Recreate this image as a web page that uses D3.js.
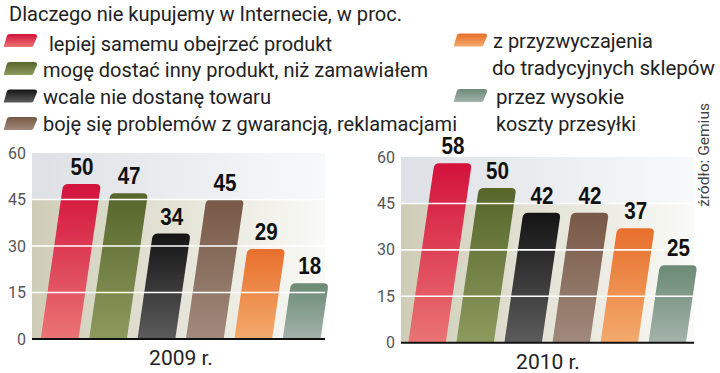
<!DOCTYPE html>
<html>
<head>
<meta charset="utf-8">
<script src="https://cdn.jsdelivr.net/npm/d3@7"></script>
<style>
  body { margin: 0; background: #fff; }
  svg { display: block; }
  text { font-family: Roboto, 'Liberation Sans', sans-serif; }
</style>
</head>
<body>
<svg id="chart" width="720" height="373"></svg>
<script>
// data
const title = 'Dlaczego nie kupujemy w Internecie, w proc.'
const categories = [
  'lepiej samemu obejrzeć produkt',
  'mogę dostać inny produkt, niż zamawiałem',
  'wcale nie dostanę towaru',
  'boję się problemów z gwarancją, reklamacjami',
  'z przyzwyczajenia do tradycyjnych sklepów',
  'przez wysokie koszty przesyłki'
]
const legendLines = [
  ['lepiej samemu obejrzeć produkt'],
  ['mogę dostać inny produkt, niż zamawiałem'],
  ['wcale nie dostanę towaru'],
  ['boję się problemów z gwarancją, reklamacjami'],
  ['z przyzwyczajenia', 'do tradycyjnych sklepów'],
  ['przez wysokie', 'koszty przesyłki']
]
const values2009 = [50, 47, 34, 45, 29, 18]
const values2010 = [58, 50, 42, 42, 37, 25]
const yTicks = [0, 15, 30, 45, 60]
const years = ['2009 r.', '2010 r.']
const source = 'źródło: Gemius'

const topColors = ['#d3123c', '#56652a', '#141414', '#785846', '#e86f2c', '#6c8a76']
const bottomColors = ['#ea7474', '#8c9a5e', '#5c5c5c', '#a08a7c', '#f3aa6c', '#a3b3aa']

var svg = d3.select('#chart')
var defs = svg.append('defs')

categories.forEach(function (c, i) {
  var g = defs.append('linearGradient')
    .attr('id', 'bar' + i)
    .attr('x1', 0).attr('y1', 0).attr('x2', 0).attr('y2', 1)
  g.append('stop').attr('offset', '0%').attr('stop-color', topColors[i])
  g.append('stop').attr('offset', '100%').attr('stop-color', bottomColors[i])
})

var bgLow = defs.append('linearGradient').attr('id', 'bgLow')
bgLow.append('stop').attr('offset', '0%').attr('stop-color', '#cfcdb7')
bgLow.append('stop').attr('offset', '100%').attr('stop-color', '#fafaf7')
var bgHigh = defs.append('linearGradient').attr('id', 'bgHigh')
bgHigh.append('stop').attr('offset', '0%').attr('stop-color', '#dde0e5')
bgHigh.append('stop').attr('offset', '100%').attr('stop-color', '#f8f9fa')

// slanted bar with rounded top corners
function barPath (xb, w, y0, yt, slant, r) {
  var off = (y0 - yt) * slant
  var xt = xb + off
  r = Math.min(r, (y0 - yt) / 2)
  return 'M' + xb + ',' + y0 +
    'L' + (xt - r * slant) + ',' + (yt + r) +
    'Q' + xt + ',' + yt + ' ' + (xt + r) + ',' + yt +
    'L' + (xt + w - r) + ',' + yt +
    'Q' + (xt + w) + ',' + yt + ' ' + (xt + w - r * slant) + ',' + (yt + r) +
    'L' + (xb + w) + ',' + y0 + 'Z'
}

function drawPanel (opts) {
  var g = svg.append('g')
  var y = d3.scaleLinear().domain([0, 60]).range([opts.y0, opts.y60])
  var x = d3.scaleBand().domain(categories)
    .range([opts.barLeft, opts.barRight])
    .paddingInner(0.22).paddingOuter(0)

  // background bands
  g.append('rect')
    .attr('x', opts.left).attr('width', opts.right - opts.left)
    .attr('y', y(60)).attr('height', y(45) - y(60))
    .attr('fill', 'url(#bgHigh)')
  g.append('rect')
    .attr('x', opts.left).attr('width', opts.right - opts.left)
    .attr('y', y(45)).attr('height', y(0) - y(45))
    .attr('fill', 'url(#bgLow)')

  var slant = 0.145
  g.selectAll('.bar')
    .data(opts.values)
    .enter()
    .append('path')
    .attr('class', 'bar')
    .attr('fill', function (d, i) { return 'url(#bar' + i + ')' })
    .attr('d', function (d, i) {
      return barPath(x(categories[i]), x.bandwidth(), y(0), y(d), slant, 5)
    })

  // white gridlines over bars
  g.selectAll('.grid')
    .data(yTicks.filter(function (t) { return t > 0 && t < 60 }))
    .enter()
    .append('line')
    .attr('x1', opts.left).attr('x2', opts.right)
    .attr('y1', function (d) { return y(d) }).attr('y2', function (d) { return y(d) })
    .attr('stroke', '#fff').attr('stroke-width', 1.6)

  // value labels (condensed bold)
  g.selectAll('.val')
    .data(opts.values)
    .enter()
    .append('text')
    .attr('transform', function (d, i) {
      var cx = x(categories[i]) + (y(0) - y(d)) * slant + x.bandwidth() / 2
      return 'translate(' + cx + ',' + (y(d) - 9) + ') scale(0.86,1)'
    })
    .attr('text-anchor', 'middle')
    .style('font-family', "'Liberation Sans', Arial, sans-serif")
    .style('font-weight', 'bold')
    .style('font-size', '24px')
    .attr('fill', '#111')
    .text(function (d) { return d })

  // y axis
  var axis = g.append('g')
    .attr('transform', 'translate(' + opts.left + ',0)')
    .call(d3.axisLeft(y).tickValues(yTicks).tickSize(0).tickPadding(6))
  axis.select('.domain').remove()
  axis.selectAll('text')
    .style('font-family', 'Roboto, sans-serif')
    .style('font-size', '16px')
    .attr('fill', '#555')

  // baseline
  g.append('line')
    .attr('x1', opts.left).attr('x2', opts.right)
    .attr('y1', y(0)).attr('y2', y(0))
    .attr('stroke', '#111').attr('stroke-width', 2)

  g.append('text')
    .attr('x', opts.titleX).attr('y', y(0) + 26)
    .attr('text-anchor', 'middle')
    .style('font-size', '21px')
    .attr('fill', '#222')
    .text(opts.year)
}

drawPanel({ values: values2009, year: years[0], left: 32, right: 325, y0: 339, y60: 153, barLeft: 40.7, barRight: 320.5, titleX: 181 })
drawPanel({ values: values2010, year: years[1], left: 401, right: 694, y0: 342.7, y60: 157, barLeft: 408.3, barRight: 686, titleX: 548 })

// title
svg.append('text')
  .attr('x', 9).attr('y', 21)
  .attr('textLength', 393).attr('lengthAdjust', 'spacingAndGlyphs')
  .style('font-size', '20px')
  .attr('fill', '#222')
  .text(title)

// legend
function swatch (x0, y0) {
  var w = 30, h = 13, s = 3, r = 3
  return 'M' + (x0 + r) + ',' + (y0 + h) +
    'L' + x0 + ',' + (y0 + h) +
    'Q' + (x0 - 0.5) + ',' + (y0 + h) + ' ' + (x0 + 0.5) + ',' + (y0 + h - r) +
    'L' + (x0 + s - 0.5) + ',' + (y0 + r) +
    'Q' + (x0 + s) + ',' + y0 + ' ' + (x0 + s + r) + ',' + y0 +
    'L' + (x0 + s + w - r) + ',' + y0 +
    'Q' + (x0 + s + w + 0.5) + ',' + y0 + ' ' + (x0 + s + w) + ',' + (y0 + r) +
    'L' + (x0 + w) + ',' + (y0 + h - r) +
    'Q' + (x0 + w - 0.5) + ',' + (y0 + h) + ' ' + (x0 + w - r) + ',' + (y0 + h) + 'Z'
}

// layout of legend entries: swatch position, text position, line widths
var legendPos = [
  { sx: 4, sy: 34, tx: [49], ty: 51, w: [283] },
  { sx: 4, sy: 62, tx: [43], ty: 77, w: [385] },
  { sx: 4, sy: 89.5, tx: [43], ty: 104, w: [228] },
  { sx: 4, sy: 117, tx: [43], ty: 131, w: [414] },
  { sx: 454, sy: 33.5, tx: [493, 492], ty: 48, w: [160, 223] },
  { sx: 454, sy: 89, tx: [496, 496], ty: 104, w: [128, 140] }
]

var lg = svg.append('g')
legendLines.forEach(function (lines, i) {
  var p = legendPos[i]
  lg.append('path')
    .attr('d', swatch(p.sx, p.sy))
    .attr('fill', 'url(#bar' + i + ')')
  lines.forEach(function (t, j) {
    lg.append('text')
      .attr('x', p.tx[j]).attr('y', p.ty + j * 26.5)
      .attr('textLength', p.w[j]).attr('lengthAdjust', 'spacingAndGlyphs')
      .style('font-size', '20px')
      .attr('fill', '#222')
      .text(t)
  })
})

// source
svg.append('text')
  .attr('transform', 'translate(709,207) rotate(-90)')
  .attr('textLength', 104).attr('lengthAdjust', 'spacingAndGlyphs')
  .style('font-size', '15px')
  .attr('fill', '#444')
  .text(source)
</script>
</body>
</html>
